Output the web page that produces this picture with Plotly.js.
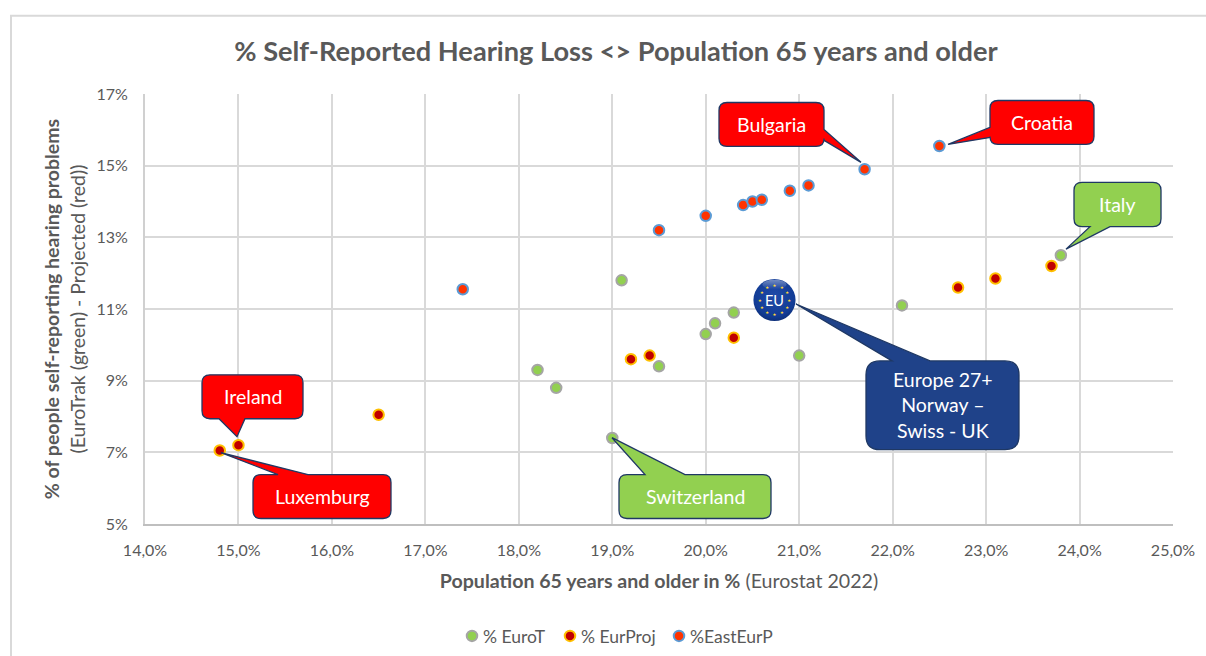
<!DOCTYPE html>
<html><head><meta charset="utf-8">
<script src="https://cdn.plot.ly/plotly-3.0.1.min.js"></script>
<style>html,body{margin:0;padding:0;background:#fff}#c{width:1206px;height:656px}</style>
</head><body><div id="c"></div>
<script>
// Chart data
const euroT_x = [19.1,18.2,18.4,19.5,20.0,20.1,20.3,21.0,22.1,23.8,19.0];
const euroT_y = [11.8,9.3,8.8,9.4,10.3,10.6,10.9,9.7,11.1,12.5,7.4];
const eurProj_x = [14.8,15.0,16.5,19.2,19.4,20.3,22.7,23.1,23.7];
const eurProj_y = [7.05,7.2,8.05,9.6,9.7,10.2,11.6,11.85,12.2];
const eastEur_x = [17.4,19.5,20.0,20.4,20.5,20.6,20.9,21.1,21.7,22.5];
const eastEur_y = [11.55,13.2,13.6,13.9,14.0,14.05,14.3,14.45,14.9,15.55];
const seriesNames = ['% EuroT','% EurProj','%EastEurP'];

// Page geometry
const W=1206,H=656,L=145,R=1173,T=93.5,B=524.5;
const px=x=>(x-L)/(R-L), py=y=>(B-y)/(B-T);
const FONT='Lato, "Open Sans", sans-serif', TXT='#595959', GRID='#D9D9D9';
const RED='#FF0000',GREEN='#92D050',NAVY='#1F4289',EDGE='#1F3864';

// Callouts: box [x0,y0,x1,y1], tail edge and two base points + tip (pixels)
const callouts=[
 {t:'Bulgaria',box:[719,102,824,146],edge:'r',a:129,b:140,tip:[861,162],fill:RED,r:8},
 {t:'Croatia',box:[990,100,1094,144],edge:'l',a:127,b:137,tip:[948,144],fill:RED,r:8},
 {t:'Italy',box:[1074,182,1161,226.5],edge:'b',a:1090,b:1110,tip:[1066,249],fill:GREEN,r:8},
 {t:'Europe 27+<br>Norway –<br>Swiss - UK',box:[866,361,1019,450],edge:'t',a:892,b:930,tip:[796,304],fill:NAVY,r:14},
 {t:'Ireland',box:[202,375,303,419],edge:'b',a:219,b:245,tip:[237,437],fill:RED,r:8},
 {t:'Luxemburg',box:[253,475,391,519],edge:'t',a:278,b:308,tip:[221,453],fill:RED,r:8},
 {t:'Switzerland',box:[619,475,771,519],edge:'t',a:645,b:685,tip:[612,438],fill:GREEN,r:8}
];
function calloutPath(c){
 const [x0,y0,x1,y1]=c.box,r=c.r,P=(x,y)=>px(x).toFixed(5)+','+py(y).toFixed(5);
 let d='M'+P(x0+r,y0);
 if(c.edge==='t') d+=' L'+P(c.a,y0)+' L'+P(c.tip[0],c.tip[1])+' L'+P(c.b,y0);
 d+=' L'+P(x1-r,y0)+' Q'+P(x1,y0)+' '+P(x1,y0+r);
 if(c.edge==='r') d+=' L'+P(x1,c.a)+' L'+P(c.tip[0],c.tip[1])+' L'+P(x1,c.b);
 d+=' L'+P(x1,y1-r)+' Q'+P(x1,y1)+' '+P(x1-r,y1);
 if(c.edge==='b') d+=' L'+P(c.b,y1)+' L'+P(c.tip[0],c.tip[1])+' L'+P(c.a,y1);
 d+=' L'+P(x0+r,y1)+' Q'+P(x0,y1)+' '+P(x0,y1-r);
 if(c.edge==='l') d+=' L'+P(x0,c.b)+' L'+P(c.tip[0],c.tip[1])+' L'+P(x0,c.a);
 d+=' L'+P(x0,y0+r)+' Q'+P(x0,y0)+' '+P(x0+r,y0)+' Z';
 return d;
}
const shapes=[
 {type:'rect',xref:'paper',yref:'paper',x0:px(11),x1:px(1225),y0:py(680),y1:py(15),line:{color:GRID,width:2},fillcolor:'rgba(0,0,0,0)',layer:'below'},
 ...callouts.map(c=>({type:'path',xref:'paper',yref:'paper',path:calloutPath(c),fillcolor:c.fill,line:{color:EDGE,width:1.3},layer:'above'}))
];
const annotations=[
 ...callouts.map(c=>({xref:'paper',yref:'paper',x:px((c.box[0]+c.box[2])/2),y:py((c.box[1]+c.box[3])/2),text:c.t,showarrow:false,
   font:{family:FONT,size:19.5,color:'#FFFFFF'},xanchor:'center',yanchor:'middle',align:'center'})),
 {xref:'paper',yref:'paper',x:px(774.5),y:py(300),text:'EU',showarrow:false,font:{family:FONT,size:14.5,color:'#FFFFFF'},xanchor:'center',yanchor:'middle'}
];

// EU badge artwork (circle and stars only; the label is real text)
let stars='';
for(let i=0;i<12;i++){const a=i*Math.PI/6,cx=50+34*Math.sin(a),cy=50-34*Math.cos(a);
 stars+=`<text x="${cx.toFixed(1)}" y="${(cy+3.5).toFixed(1)}" font-size="10" fill="#FFD93B" text-anchor="middle" font-family="DejaVu Sans">★</text>`;}
const badge=`<svg xmlns="http://www.w3.org/2000/svg" viewBox="0 0 100 100"><defs><radialGradient id="g" cx="50%" cy="40%" r="65%"><stop offset="0" stop-color="#1F4AA8"/><stop offset="0.75" stop-color="#123C95"/><stop offset="1" stop-color="#0B2A6E"/></radialGradient><linearGradient id="h" x1="0" y1="0" x2="0" y2="1"><stop offset="0" stop-color="#fff" stop-opacity="0.4"/><stop offset="1" stop-color="#fff" stop-opacity="0"/></linearGradient></defs><circle cx="50" cy="50" r="49" fill="url(#g)"/><ellipse cx="50" cy="14" rx="28" ry="11" fill="url(#h)"/>${stars}</svg>`;

const mk=(name,x,y,fill,edge)=>({type:'scatter',mode:'markers',name,x,y,hoverinfo:'x+y',
  marker:{size:10.5,color:fill,line:{color:edge,width:2}}});
const data=[
 mk(seriesNames[0],euroT_x,euroT_y,'#92D050','#A5A5A5'),
 mk(seriesNames[1],eurProj_x,eurProj_y,'#C00000','#FFC000'),
 mk(seriesNames[2],eastEur_x,eastEur_y,'#FF3300','#5B9BD5')
];
const axisFont={family:FONT,size:16,color:TXT};
const layout={
 width:W,height:H,autosize:false,paper_bgcolor:'#fff',plot_bgcolor:'#fff',separators:',.',
 margin:{l:L,r:W-R,t:T,b:H-B,pad:0},
 font:{family:FONT,color:TXT},
 title:{text:'<b>% Self-Reported Hearing Loss <> Population 65 years and older</b>',font:{family:FONT,size:27.2,color:TXT},x:(235+997)/2/W,xanchor:'center',y:1-51/H,yanchor:'middle'},
 xaxis:{range:[14,25],dtick:1,tick0:14,tickformat:'.1f',ticksuffix:'%',showgrid:true,gridcolor:GRID,gridwidth:2,zeroline:false,showline:true,linecolor:'#BFBFBF',linewidth:2,ticks:'',tickfont:axisFont,ticklabelstandoff:11,automargin:false,
   title:{text:'<b>Population 65 years and older in %</b> (Eurostat 2022)',font:{family:FONT,size:19.6,color:TXT},standoff:16}},
 yaxis:{range:[5,17],dtick:2,tick0:5,ticksuffix:'%',showgrid:true,gridcolor:GRID,gridwidth:2,zeroline:false,showline:true,linecolor:'#D0D0D0',linewidth:2,ticks:'',tickfont:axisFont,ticklabelstandoff:12,automargin:false,
   title:{text:'<b>% of people self-reporting hearing problems</b><br>(EuroTrak (green) - Projected (red))',font:{family:FONT,size:19.5,color:TXT},standoff:6}},
 legend:{orientation:'h',xref:'container',yref:'container',x:450/W,xanchor:'left',y:1-636/H,yanchor:'middle',font:{family:FONT,size:17.5,color:TXT},itemwidth:30,bgcolor:'rgba(0,0,0,0)',traceorder:'normal'},
 shapes,annotations,
 images:[{source:'data:image/svg+xml;charset=utf-8,'+encodeURIComponent(badge),xref:'paper',yref:'paper',x:px(753),y:py(278.5),sizex:43/(R-L),sizey:43/(B-T),sizing:'stretch',xanchor:'left',yanchor:'top',layer:'above'}]
};
// Legend entries: marker centre and label start, in page pixels
const legendMarkerX=[472,570,679], legendTextX=[483,581,690];
Plotly.newPlot('c',data,layout,{displayModeBar:false}).then(gd=>{
 const base=gd.getBoundingClientRect().left;
 gd.querySelectorAll('.legend .traces').forEach((g,i)=>{
  const pt=g.querySelector('.scatterpts path, .legendpoints path');
  const tx=g.querySelector('.legendtext');
  const m=g.getAttribute('transform').match(/translate\(([-\d.]+)[ ,]*([-\d.]+)?/);
  const mr=pt.getBoundingClientRect();
  const dx=legendMarkerX[i]-(mr.left+mr.width/2-base);
  g.setAttribute('transform',`translate(${parseFloat(m[1])+dx},${m[2]||0})`);
  const tr=tx.getBoundingClientRect();
  tx.setAttribute('x',parseFloat(tx.getAttribute('x'))+(legendTextX[i]-(tr.left-base)));
 });
});
</script></body></html>
